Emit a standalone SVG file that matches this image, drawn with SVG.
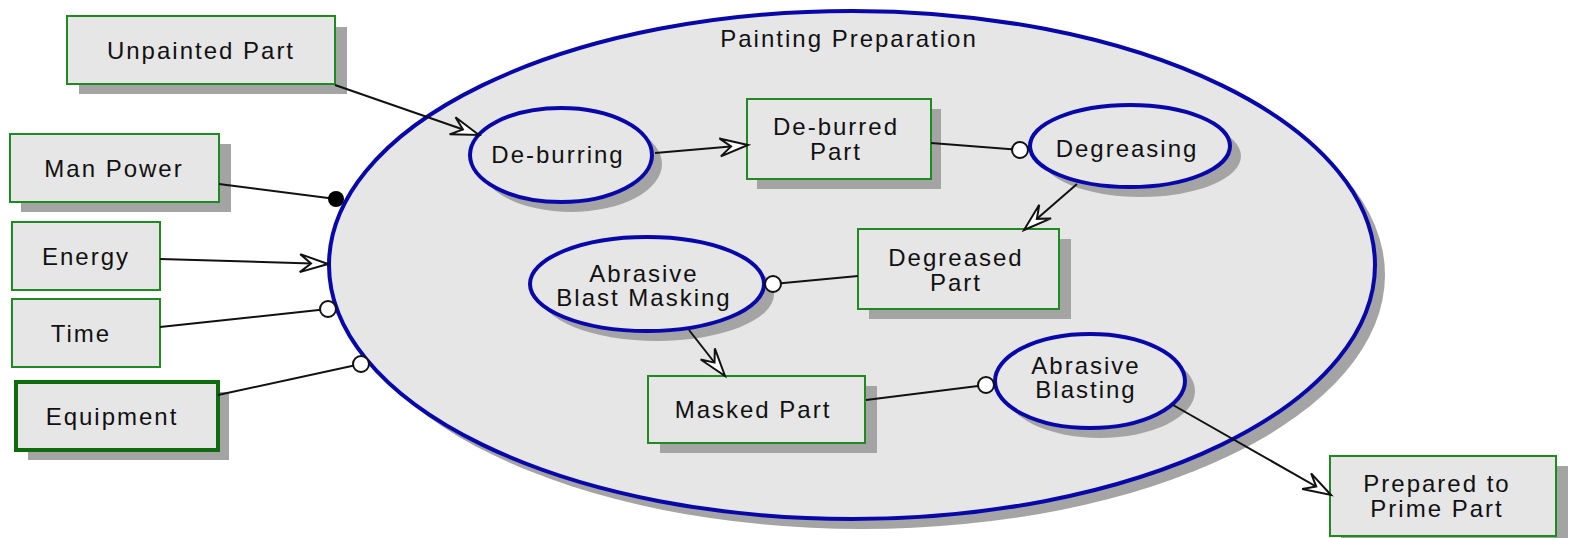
<svg xmlns="http://www.w3.org/2000/svg" width="1570" height="538" viewBox="0 0 1570 538">
  <style>
    .shadow { fill: #a4a4a4; }
    .box { fill: #e6e6e6; stroke: #1f8a1f; stroke-width: 2; }
    .box-bold { fill: #e6e6e6; stroke: #0e6b0e; stroke-width: 4; }
    .proc { fill: #e6e6e6; stroke: #0808aa; stroke-width: 4; }
    .label { font-family: "Liberation Sans", Arial, sans-serif; font-size: 24px; letter-spacing: 2px; fill: #111; text-anchor: middle; }
    .edge { fill: none; stroke: #111; stroke-width: 2; }
    .open-end { fill: #fff; stroke: #111; stroke-width: 2; }
    .dot-end { fill: #000; }
  </style>
  <defs>
    <marker id="arrow" markerUnits="userSpaceOnUse" markerWidth="34" markerHeight="24" viewBox="-31 -12 34 24" refX="0" refY="0" orient="auto">
      <path d="M0,0 L-28,-9 L-17,0 L-28,9 Z" fill="#fff" stroke="#111" stroke-width="2" stroke-linejoin="miter"/>
    </marker>
  </defs>

  <rect width="1570" height="538" fill="#fff"/>

  <!-- container process -->
  <g id="painting-preparation">
    <ellipse class="shadow" cx="862" cy="275" rx="523" ry="254"/>
    <ellipse class="proc" cx="852" cy="265" rx="523" ry="254"/>
    <text class="label" x="849" y="47">Painting Preparation</text>
  </g>

  <!-- external inputs -->
  <g id="unpainted-part">
    <rect class="shadow" x="79" y="27" width="268" height="67"/>
    <rect class="box" x="67" y="16" width="268" height="68"/>
    <text class="label" x="201" y="59">Unpainted Part</text>
  </g>
  <g id="man-power">
    <rect class="shadow" x="21" y="144" width="210" height="68"/>
    <rect class="box" x="10" y="134" width="209" height="68"/>
    <text class="label" x="114" y="177">Man Power</text>
  </g>
  <g id="energy">
    <rect class="box" x="12" y="222" width="148" height="68"/>
    <text class="label" x="86" y="265">Energy</text>
  </g>
  <g id="time">
    <rect class="box" x="12" y="299" width="148" height="68"/>
    <text class="label" x="81" y="342">Time</text>
  </g>
  <g id="equipment">
    <rect class="shadow" x="28" y="392" width="201" height="68"/>
    <rect class="box-bold" x="16" y="382" width="202" height="68"/>
    <text class="label" x="112" y="425">Equipment</text>
  </g>

  <!-- inner steps -->
  <g id="de-burring">
    <ellipse class="shadow" cx="571" cy="164" rx="91" ry="48"/>
    <ellipse class="proc" cx="561" cy="155" rx="91" ry="47"/>
    <text class="label" x="558" y="163">De-burring</text>
  </g>
  <g id="de-burred-part">
    <rect class="shadow" x="757" y="109" width="184" height="80"/>
    <rect class="box" x="747" y="99" width="184" height="80"/>
    <text class="label" x="836" y="135">De-burred</text>
    <text class="label" x="836" y="160">Part</text>
  </g>
  <g id="degreasing">
    <ellipse class="shadow" cx="1141" cy="156" rx="100" ry="41"/>
    <ellipse class="proc" cx="1130" cy="146" rx="100" ry="41"/>
    <text class="label" x="1127" y="157">Degreasing</text>
  </g>
  <g id="degreased-part">
    <rect class="shadow" x="869" y="239" width="202" height="80"/>
    <rect class="box" x="858" y="229" width="201" height="80"/>
    <text class="label" x="956" y="266">Degreased</text>
    <text class="label" x="956" y="291">Part</text>
  </g>
  <g id="abrasive-blast-masking">
    <ellipse class="shadow" cx="657" cy="294" rx="117" ry="47"/>
    <ellipse class="proc" cx="647" cy="284" rx="117" ry="47"/>
    <text class="label" x="644" y="282">Abrasive</text>
    <text class="label" x="644" y="306">Blast Masking</text>
  </g>
  <g id="masked-part">
    <rect class="shadow" x="660" y="386" width="217" height="67"/>
    <rect class="box" x="648" y="376" width="217" height="67"/>
    <text class="label" x="753" y="418">Masked Part</text>
  </g>
  <g id="abrasive-blasting">
    <ellipse class="shadow" cx="1100" cy="391" rx="95" ry="47"/>
    <ellipse class="proc" cx="1090" cy="381" rx="95" ry="47"/>
    <text class="label" x="1086" y="374">Abrasive</text>
    <text class="label" x="1086" y="398">Blasting</text>
  </g>

  <!-- output -->
  <g id="prepared-to-prime-part">
    <rect class="shadow" x="1341" y="466" width="227" height="80"/>
    <rect class="box" x="1330" y="456" width="226" height="80"/>
    <text class="label" x="1437" y="492">Prepared to</text>
    <text class="label" x="1437" y="517">Prime Part</text>
  </g>

  <!-- connectors -->
  <g id="connectors">
    <line class="edge" x1="335" y1="85" x2="479" y2="135" marker-end="url(#arrow)"/>
    <line class="edge" x1="219" y1="184" x2="336" y2="199"/>
    <circle class="dot-end" cx="336" cy="199" r="8"/>
    <line class="edge" x1="160" y1="259" x2="328" y2="264" marker-end="url(#arrow)"/>
    <line class="edge" x1="160" y1="327" x2="328" y2="309"/>
    <circle class="open-end" cx="328" cy="309" r="8"/>
    <line class="edge" x1="218" y1="395" x2="361" y2="364"/>
    <circle class="open-end" cx="361" cy="364" r="8"/>

    <line class="edge" x1="655" y1="153" x2="748" y2="145" marker-end="url(#arrow)"/>
    <line class="edge" x1="931" y1="143" x2="1020" y2="150"/>
    <circle class="open-end" cx="1020" cy="150" r="8"/>
    <line class="edge" x1="1077" y1="184" x2="1024" y2="230" marker-end="url(#arrow)"/>
    <line class="edge" x1="858" y1="276" x2="773" y2="284"/>
    <circle class="open-end" cx="773" cy="284" r="8"/>
    <line class="edge" x1="689" y1="330" x2="725" y2="376" marker-end="url(#arrow)"/>
    <line class="edge" x1="866" y1="400" x2="986" y2="385"/>
    <circle class="open-end" cx="986" cy="385" r="8"/>
    <line class="edge" x1="1173" y1="405" x2="1331" y2="495" marker-end="url(#arrow)"/>
  </g>
</svg>
